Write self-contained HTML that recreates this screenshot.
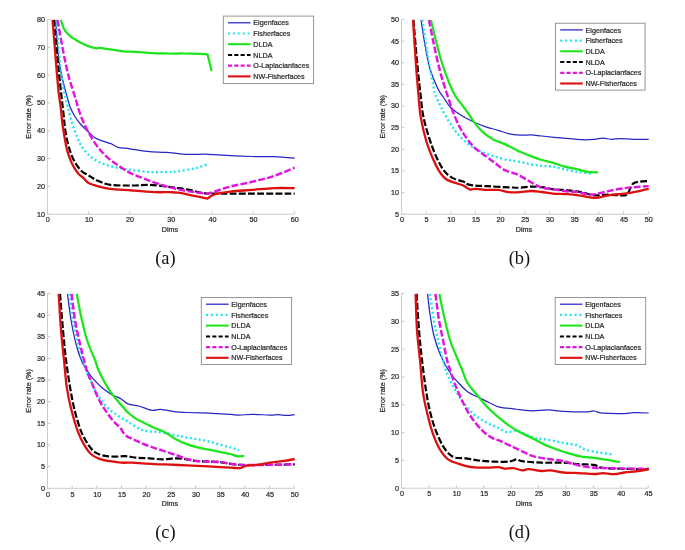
<!DOCTYPE html>
<html><head><meta charset="utf-8"><title>Figure</title>
<style>
html,body{margin:0;padding:0;background:#fff;}
body{width:685px;height:550px;overflow:hidden;}
svg{display:block;will-change:transform;filter:blur(0.4px);}
.t{font-family:"Liberation Sans",sans-serif;font-size:72.0px;fill:#2a2a2a;stroke:#2a2a2a;stroke-width:2.2px;}
.cap{font-family:"Liberation Serif",serif;font-size:18.4px;fill:#111;}
</style></head><body>
<svg width="685" height="550" viewBox="0 0 685 550">
<rect width="685" height="550" fill="#fff"/>
<g id="chart-a">
<path d="M47.4 19.6 V214.2 H294.3" fill="none" stroke="#cbcbcb" stroke-width="1"/>
<text class="t" transform="translate(47.80 222.40) scale(0.1)" text-anchor="middle">0</text>
<text class="t" transform="translate(88.95 222.40) scale(0.1)" text-anchor="middle">10</text>
<text class="t" transform="translate(130.10 222.40) scale(0.1)" text-anchor="middle">20</text>
<text class="t" transform="translate(171.25 222.40) scale(0.1)" text-anchor="middle">30</text>
<text class="t" transform="translate(212.40 222.40) scale(0.1)" text-anchor="middle">40</text>
<text class="t" transform="translate(253.55 222.40) scale(0.1)" text-anchor="middle">50</text>
<text class="t" transform="translate(294.70 222.40) scale(0.1)" text-anchor="middle">60</text>
<text class="t" transform="translate(45.00 216.60) scale(0.1)" text-anchor="end">10</text>
<text class="t" transform="translate(45.00 188.80) scale(0.1)" text-anchor="end">20</text>
<text class="t" transform="translate(45.00 161.00) scale(0.1)" text-anchor="end">30</text>
<text class="t" transform="translate(45.00 133.20) scale(0.1)" text-anchor="end">40</text>
<text class="t" transform="translate(45.00 105.40) scale(0.1)" text-anchor="end">50</text>
<text class="t" transform="translate(45.00 77.60) scale(0.1)" text-anchor="end">60</text>
<text class="t" transform="translate(45.00 49.80) scale(0.1)" text-anchor="end">70</text>
<text class="t" transform="translate(45.00 22.00) scale(0.1)" text-anchor="end">80</text>
<path d="M47.4 214.2 v-3 M88.5 214.2 v-3 M129.7 214.2 v-3 M170.8 214.2 v-3 M212.0 214.2 v-3 M253.2 214.2 v-3 M294.3 214.2 v-3 M47.4 214.2 h3 M47.4 186.4 h3 M47.4 158.6 h3 M47.4 130.8 h3 M47.4 103.0 h3 M47.4 75.2 h3 M47.4 47.4 h3 M47.4 19.6 h3" fill="none" stroke="#cbcbcb" stroke-width="1"/>
<text class="t" transform="translate(169.95 232.10) scale(0.1)" text-anchor="middle">Dims</text>
<text class="t" transform="translate(31.30 116.90) rotate(-90) scale(0.1)" text-anchor="middle">Error rate (%)</text>
<text class="cap" x="165.4" y="264.0" text-anchor="middle">(a)</text>
<path d="M55.6 19.9 C56.1 26.6 57.6 49.6 58.9 60.0 C60.2 70.3 61.7 75.3 63.2 82.0 C64.7 88.7 66.8 95.8 68.0 100.0 C69.2 104.2 69.1 104.6 70.2 107.3 C71.3 110.0 72.9 113.2 74.6 116.0 C76.3 118.8 78.2 121.5 80.4 124.0 C82.6 126.5 85.3 129.0 87.7 131.3 C90.1 133.6 92.5 136.2 94.9 137.8 C97.3 139.4 99.5 139.8 102.2 140.8 C104.9 141.8 108.2 142.6 110.9 143.7 C113.6 144.8 115.0 146.5 118.2 147.3 C121.4 148.2 124.8 148.1 130.0 148.8 C135.2 149.5 143.5 151.1 149.7 151.7 C155.9 152.3 162.9 152.2 167.1 152.4 C171.3 152.7 171.7 152.9 175.0 153.2 C178.3 153.5 181.2 154.1 186.8 154.3 C192.4 154.5 201.3 154.1 208.6 154.3 C215.9 154.5 223.1 155.2 230.4 155.6 C237.7 156.0 244.9 156.3 252.2 156.5 C259.5 156.7 266.9 156.4 274.0 156.7 C281.1 157.0 291.2 157.9 294.7 158.2" fill="none" stroke="#2626c6" stroke-width="1.25" stroke-linejoin="round"/>
<path d="M56.2 19.9 C56.9 27.4 58.9 53.6 60.1 65.0 C61.3 76.4 62.2 81.9 63.4 88.5 C64.6 95.1 66.2 99.8 67.3 104.4 C68.4 109.0 69.2 112.4 70.2 116.0 C71.2 119.6 71.9 122.6 73.1 126.2 C74.3 129.8 76.0 134.4 77.5 137.8 C79.0 141.2 80.1 143.9 81.8 146.6 C83.5 149.3 85.5 151.7 87.7 153.9 C89.9 156.1 92.2 158.0 94.9 159.7 C97.6 161.4 100.8 162.8 103.7 164.0 C106.6 165.2 109.5 166.0 112.4 166.7 C115.3 167.4 118.2 167.9 121.1 168.4 C124.0 168.9 125.2 169.2 130.0 169.8 C134.8 170.4 143.5 171.6 149.7 172.0 C155.9 172.4 162.4 172.1 167.1 172.0 C171.8 171.9 174.1 171.8 178.1 171.3 C182.1 170.8 187.6 169.8 191.2 169.1 C194.8 168.4 197.2 167.8 199.9 167.0 C202.6 166.2 206.2 164.8 207.5 164.3" fill="none" stroke="#22e4f0" stroke-width="2.4" stroke-linejoin="round" stroke-dasharray="2.0 2.5"/>
<path d="M60.7 19.9 C61.0 20.6 61.8 22.6 62.3 24.0 C62.8 25.4 63.0 27.0 63.9 28.6 C64.8 30.2 66.2 32.2 67.5 33.6 C68.8 35.0 70.3 36.3 71.6 37.3 C72.9 38.3 73.9 38.7 75.3 39.5 C76.7 40.3 78.3 41.5 79.8 42.3 C81.3 43.1 82.9 43.8 84.4 44.5 C85.9 45.2 87.1 45.8 88.9 46.4 C90.7 47.0 93.5 48.0 95.3 48.2 C97.1 48.5 97.7 47.8 99.8 47.9 C101.9 48.0 104.1 48.5 108.0 49.1 C111.9 49.7 118.5 50.9 123.2 51.4 C127.9 51.9 131.3 51.6 136.1 51.9 C140.9 52.2 146.8 52.8 152.1 53.1 C157.4 53.4 162.8 53.4 168.2 53.5 C173.5 53.6 178.8 53.4 184.2 53.5 C189.5 53.6 196.4 53.8 200.3 53.9 C204.2 54.0 207.6 54.3 207.6 54.3 C207.6 54.3 210.8 68.1 211.5 70.9" fill="none" stroke="#1ce51c" stroke-width="2.25" stroke-linejoin="round"/>
<path d="M53.8 19.9 C54.2 24.1 55.4 36.6 56.2 45.0 C57.0 53.4 57.8 62.2 58.6 70.0 C59.4 77.8 60.2 84.6 61.0 92.0 C61.8 99.4 62.9 108.4 63.6 114.6 C64.3 120.8 64.4 124.2 65.1 129.1 C65.8 133.9 66.9 139.3 68.0 143.7 C69.1 148.1 70.3 151.9 71.6 155.3 C72.9 158.7 74.3 161.3 76.0 164.0 C77.7 166.7 79.8 169.5 81.8 171.3 C83.8 173.1 86.1 174.0 87.7 175.0 C89.3 176.0 89.8 176.2 91.3 177.1 C92.8 178.0 93.8 179.2 97.0 180.5 C100.2 181.8 104.5 184.1 110.4 184.9 C116.3 185.7 125.6 185.5 132.2 185.5 C138.8 185.5 143.9 184.7 149.7 184.9 C155.5 185.1 162.9 186.1 167.1 186.6 C171.3 187.1 171.7 187.2 175.0 187.7 C178.3 188.2 181.6 188.4 186.8 189.4 C192.0 190.4 201.7 192.9 206.4 193.6 C211.1 194.3 200.5 193.6 215.2 193.6 C229.9 193.6 281.4 193.6 294.7 193.6" fill="none" stroke="#000000" stroke-width="2.2" stroke-linejoin="round" stroke-dasharray="6.8 2.3"/>
<path d="M57.5 19.9 C58.5 25.1 61.4 42.0 63.2 51.4 C65.0 60.8 66.5 67.9 68.6 76.0 C70.7 84.1 74.3 94.3 76.0 100.0 C77.7 105.7 77.7 106.6 78.9 110.2 C80.1 113.8 81.6 117.9 83.3 121.8 C85.0 125.7 86.9 129.6 89.1 133.5 C91.3 137.4 94.0 141.7 96.4 145.1 C98.8 148.5 101.3 151.3 103.7 153.9 C106.1 156.5 108.5 158.5 110.9 160.4 C113.3 162.3 115.0 163.4 118.2 165.5 C121.4 167.6 125.8 170.7 130.0 172.8 C134.2 174.9 139.1 176.6 143.1 178.2 C147.1 179.8 150.0 181.0 154.0 182.4 C158.0 183.8 163.6 185.6 167.1 186.6 C170.6 187.6 171.7 187.8 175.0 188.5 C178.3 189.2 181.6 190.2 186.8 191.0 C192.0 191.8 202.4 193.3 206.4 193.6 C210.4 193.9 206.8 193.9 210.8 192.7 C214.8 191.5 223.5 188.4 230.4 186.6 C237.3 184.8 244.9 183.6 252.2 181.8 C259.5 180.0 266.9 178.4 274.0 176.0 C281.1 173.6 291.2 169.0 294.7 167.6" fill="none" stroke="#e016e0" stroke-width="2.45" stroke-linejoin="round" stroke-dasharray="6.8 2.3"/>
<path d="M52.5 19.9 C52.9 24.1 53.9 36.6 54.6 45.0 C55.3 53.4 55.9 62.2 56.6 70.0 C57.3 77.8 57.9 85.8 58.6 92.0 C59.3 98.2 60.1 102.3 60.7 107.3 C61.3 112.3 61.6 116.9 62.2 121.8 C62.8 126.7 63.6 131.6 64.4 136.4 C65.2 141.2 66.2 146.8 67.3 150.9 C68.4 155.0 69.7 158.2 70.9 161.1 C72.1 164.0 73.3 166.2 74.6 168.4 C75.9 170.6 77.5 172.6 78.9 174.2 C80.4 175.8 81.7 176.4 83.3 177.9 C84.9 179.4 85.9 181.6 88.6 183.0 C91.3 184.4 95.9 185.6 99.5 186.6 C103.1 187.6 105.0 188.2 110.4 188.8 C115.9 189.5 124.9 189.9 132.2 190.5 C139.5 191.1 147.7 191.8 154.0 192.1 C160.3 192.4 166.0 192.1 170.0 192.2 C174.0 192.3 174.6 192.2 178.1 192.7 C181.6 193.2 186.3 194.3 191.2 195.3 C196.1 196.3 207.5 198.6 207.5 198.6 C207.5 198.6 211.4 195.4 215.2 194.2 C219.0 193.0 224.2 192.3 230.4 191.6 C236.6 190.9 244.9 190.5 252.2 189.9 C259.5 189.3 266.9 188.4 274.0 188.1 C281.1 187.8 291.2 188.1 294.7 188.1" fill="none" stroke="#dc1010" stroke-width="2.3" stroke-linejoin="round"/>
<rect x="223.3" y="16.1" width="90.3" height="67.5" fill="#fff" stroke="#8a8a8a" stroke-width="0.9"/>
<path d="M228.0 22.8 h22.6" fill="none" stroke="#2626c6" stroke-width="1.25"/>
<text class="t" transform="translate(253.30 25.40) scale(0.1)">Eigenfaces</text>
<path d="M228.0 33.5 h22.6" fill="none" stroke="#22e4f0" stroke-width="2.1999999999999997" stroke-dasharray="2 2.9"/>
<text class="t" transform="translate(253.30 36.12) scale(0.1)">Fisherfaces</text>
<path d="M228.0 44.2 h22.6" fill="none" stroke="#1ce51c" stroke-width="2.05"/>
<text class="t" transform="translate(253.30 46.84) scale(0.1)">DLDA</text>
<path d="M228.0 55.0 h22.6" fill="none" stroke="#000000" stroke-width="2.0" stroke-dasharray="4.1 2.2"/>
<text class="t" transform="translate(253.30 57.56) scale(0.1)">NLDA</text>
<path d="M228.0 65.7 h22.6" fill="none" stroke="#e016e0" stroke-width="2.25" stroke-dasharray="4.1 2.2"/>
<text class="t" transform="translate(253.30 68.28) scale(0.1)">O-Laplacianfaces</text>
<path d="M228.0 76.4 h22.6" fill="none" stroke="#dc1010" stroke-width="2.0999999999999996"/>
<text class="t" transform="translate(253.30 79.00) scale(0.1)">NW-Fisherfaces</text>
</g>
<g id="chart-b">
<path d="M401.5 19.5 V214.2 H648.3" fill="none" stroke="#cbcbcb" stroke-width="1"/>
<text class="t" transform="translate(401.90 222.40) scale(0.1)" text-anchor="middle">0</text>
<text class="t" transform="translate(426.58 222.40) scale(0.1)" text-anchor="middle">5</text>
<text class="t" transform="translate(451.26 222.40) scale(0.1)" text-anchor="middle">10</text>
<text class="t" transform="translate(475.94 222.40) scale(0.1)" text-anchor="middle">15</text>
<text class="t" transform="translate(500.62 222.40) scale(0.1)" text-anchor="middle">20</text>
<text class="t" transform="translate(525.30 222.40) scale(0.1)" text-anchor="middle">25</text>
<text class="t" transform="translate(549.98 222.40) scale(0.1)" text-anchor="middle">30</text>
<text class="t" transform="translate(574.66 222.40) scale(0.1)" text-anchor="middle">35</text>
<text class="t" transform="translate(599.34 222.40) scale(0.1)" text-anchor="middle">40</text>
<text class="t" transform="translate(624.02 222.40) scale(0.1)" text-anchor="middle">45</text>
<text class="t" transform="translate(648.70 222.40) scale(0.1)" text-anchor="middle">50</text>
<text class="t" transform="translate(399.10 216.60) scale(0.1)" text-anchor="end">5</text>
<text class="t" transform="translate(399.10 194.97) scale(0.1)" text-anchor="end">10</text>
<text class="t" transform="translate(399.10 173.33) scale(0.1)" text-anchor="end">15</text>
<text class="t" transform="translate(399.10 151.70) scale(0.1)" text-anchor="end">20</text>
<text class="t" transform="translate(399.10 130.07) scale(0.1)" text-anchor="end">25</text>
<text class="t" transform="translate(399.10 108.43) scale(0.1)" text-anchor="end">30</text>
<text class="t" transform="translate(399.10 86.80) scale(0.1)" text-anchor="end">35</text>
<text class="t" transform="translate(399.10 65.17) scale(0.1)" text-anchor="end">40</text>
<text class="t" transform="translate(399.10 43.53) scale(0.1)" text-anchor="end">45</text>
<text class="t" transform="translate(399.10 21.90) scale(0.1)" text-anchor="end">50</text>
<path d="M401.5 214.2 v-3 M426.2 214.2 v-3 M450.9 214.2 v-3 M475.5 214.2 v-3 M500.2 214.2 v-3 M524.9 214.2 v-3 M549.6 214.2 v-3 M574.3 214.2 v-3 M598.9 214.2 v-3 M623.6 214.2 v-3 M648.3 214.2 v-3 M401.5 214.2 h3 M401.5 192.6 h3 M401.5 170.9 h3 M401.5 149.3 h3 M401.5 127.7 h3 M401.5 106.0 h3 M401.5 84.4 h3 M401.5 62.8 h3 M401.5 41.1 h3 M401.5 19.5 h3" fill="none" stroke="#cbcbcb" stroke-width="1"/>
<text class="t" transform="translate(524.00 232.10) scale(0.1)" text-anchor="middle">Dims</text>
<text class="t" transform="translate(385.40 116.85) rotate(-90) scale(0.1)" text-anchor="middle">Error rate (%)</text>
<text class="cap" x="519.4" y="264.0" text-anchor="middle">(b)</text>
<path d="M421.0 19.9 C421.7 24.1 423.5 36.8 425.0 45.0 C426.5 53.2 427.8 61.7 430.0 69.0 C432.2 76.3 435.7 84.2 438.0 89.0 C440.3 93.8 442.0 95.0 444.0 98.0 C446.0 101.0 447.3 104.1 450.2 107.0 C453.1 109.9 457.1 112.8 461.1 115.3 C465.1 117.8 469.9 120.3 474.2 122.3 C478.5 124.3 483.2 126.0 487.2 127.3 C491.2 128.6 494.5 129.2 498.1 130.3 C501.8 131.4 505.5 133.0 509.1 133.8 C512.8 134.6 516.4 134.9 520.0 135.1 C523.6 135.3 527.3 134.8 530.9 134.9 C534.5 135.1 536.3 135.4 541.8 136.0 C547.2 136.6 557.0 137.6 563.6 138.2 C570.2 138.8 576.0 139.5 581.1 139.7 C586.2 139.9 590.5 139.6 594.1 139.3 C597.7 139.1 600.0 138.2 602.9 138.2 C605.8 138.2 608.7 139.2 611.6 139.3 C614.5 139.4 616.7 138.6 620.3 138.6 C623.9 138.6 628.7 139.2 633.4 139.3 C638.1 139.4 646.2 139.3 648.7 139.3" fill="none" stroke="#2626c6" stroke-width="1.25" stroke-linejoin="round"/>
<path d="M422.4 19.9 C423.2 25.1 425.7 42.8 427.0 51.0 C428.3 59.2 428.8 62.7 430.0 69.0 C431.2 75.3 433.1 84.7 434.0 89.0 C434.9 93.3 434.3 91.9 435.5 95.0 C436.7 98.1 438.8 102.8 441.2 107.5 C443.6 112.2 447.2 118.8 450.2 123.4 C453.1 128.0 455.6 131.7 458.9 135.3 C462.2 138.9 466.2 142.5 469.8 145.2 C473.4 147.9 477.1 149.6 480.7 151.3 C484.3 153.0 487.6 154.3 491.6 155.6 C495.6 156.9 500.3 158.3 504.7 159.3 C509.1 160.3 513.4 160.7 517.8 161.5 C522.2 162.3 526.9 163.6 530.9 164.3 C534.9 165.0 538.2 165.5 541.8 165.9 C545.4 166.3 549.1 166.0 552.7 166.5 C556.3 167.0 559.6 168.2 563.6 169.1 C567.6 170.0 572.0 171.1 576.7 171.8 C581.4 172.5 589.5 173.2 592.0 173.5" fill="none" stroke="#22e4f0" stroke-width="2.4" stroke-linejoin="round" stroke-dasharray="2.0 2.5"/>
<path d="M431.0 19.9 C431.8 23.4 434.2 33.8 436.0 41.0 C437.8 48.2 439.7 55.7 442.0 63.0 C444.3 70.3 447.7 79.3 450.0 85.0 C452.3 90.7 454.1 93.9 456.0 97.0 C457.9 100.1 459.2 101.1 461.1 103.7 C463.0 106.3 465.4 109.3 467.6 112.4 C469.8 115.5 471.6 119.0 474.2 122.3 C476.8 125.6 479.6 129.2 482.9 132.1 C486.2 135.0 490.2 137.7 493.8 139.7 C497.4 141.7 501.1 142.5 504.7 144.1 C508.3 145.7 513.1 148.2 515.6 149.5 C518.1 150.8 517.5 150.6 520.0 151.7 C522.5 152.8 527.3 154.7 530.9 156.1 C534.5 157.5 538.2 158.9 541.8 160.0 C545.4 161.1 549.1 161.5 552.7 162.6 C556.3 163.7 559.6 165.2 563.6 166.3 C567.6 167.4 572.7 168.2 576.7 169.1 C580.7 170.0 584.0 171.2 587.6 171.8 C591.2 172.4 596.4 172.3 598.1 172.4" fill="none" stroke="#1ce51c" stroke-width="2.25" stroke-linejoin="round"/>
<path d="M413.4 19.9 C414.1 27.4 416.2 52.5 417.4 65.0 C418.6 77.5 419.6 86.4 420.6 95.0 C421.6 103.6 421.9 109.5 423.4 116.8 C424.9 124.1 427.3 132.0 429.4 138.6 C431.5 145.2 433.6 150.8 436.0 156.1 C438.4 161.4 440.9 166.6 443.6 170.2 C446.3 173.8 449.0 176.0 452.3 177.9 C455.6 179.8 460.3 180.4 463.2 181.6 C466.1 182.8 465.8 184.1 469.8 184.9 C473.8 185.7 480.6 185.8 487.2 186.2 C493.8 186.6 503.6 187.1 509.1 187.3 C514.6 187.6 516.4 187.8 520.0 187.7 C523.6 187.6 527.3 186.7 530.9 186.6 C534.5 186.5 538.2 186.8 541.8 187.2 C545.4 187.6 548.3 188.7 552.7 189.2 C557.1 189.7 563.3 189.8 568.0 190.3 C572.7 190.8 576.8 191.2 581.1 192.0 C585.5 192.8 589.8 194.9 594.1 195.3 C598.5 195.8 602.8 194.7 607.2 194.7 C611.6 194.7 617.0 195.3 620.3 195.3 C623.6 195.3 625.2 196.0 626.8 194.9 C628.4 193.8 629.0 190.7 630.1 188.8 C631.2 186.9 631.8 184.5 633.4 183.3 C635.0 182.1 637.5 182.0 640.0 181.6 C642.5 181.2 647.2 181.2 648.7 181.1" fill="none" stroke="#000000" stroke-width="2.2" stroke-linejoin="round" stroke-dasharray="6.8 2.3"/>
<path d="M429.0 19.9 C429.8 24.1 432.2 36.5 434.0 45.0 C435.8 53.5 438.0 63.3 440.0 71.0 C442.0 78.7 444.3 85.7 446.0 91.0 C447.7 96.3 448.9 99.8 450.0 103.0 C451.1 106.2 450.8 106.5 452.3 110.3 C453.8 114.0 456.7 121.2 458.9 125.5 C461.1 129.8 462.8 132.8 465.4 136.4 C467.9 140.0 470.6 143.8 474.2 147.3 C477.8 150.8 483.6 154.5 487.2 157.2 C490.8 159.9 493.1 161.5 496.0 163.7 C498.9 165.9 501.1 168.4 504.7 170.2 C508.3 172.0 513.4 172.6 517.8 174.6 C522.2 176.6 526.9 180.0 530.9 182.2 C534.9 184.4 538.2 186.5 541.8 187.7 C545.4 188.9 549.1 188.6 552.7 189.2 C556.3 189.8 559.6 190.5 563.6 191.0 C567.6 191.5 572.7 191.5 576.7 192.0 C580.7 192.5 584.5 193.8 587.6 194.2 C590.7 194.6 591.9 194.7 595.2 194.2 C598.5 193.7 603.0 192.3 607.2 191.4 C611.4 190.5 615.9 189.5 620.3 188.8 C624.7 188.1 628.7 187.6 633.4 187.2 C638.1 186.8 646.2 186.3 648.7 186.1" fill="none" stroke="#e016e0" stroke-width="2.45" stroke-linejoin="round" stroke-dasharray="6.8 2.3"/>
<path d="M413.0 19.9 C413.5 27.4 415.1 52.5 416.0 65.0 C416.9 77.5 417.7 86.4 418.5 95.0 C419.3 103.6 419.4 109.2 420.7 116.8 C422.0 124.4 424.2 133.9 426.2 140.8 C428.2 147.7 430.5 153.1 432.7 158.2 C434.9 163.3 437.1 167.8 439.3 171.3 C441.5 174.8 443.3 177.1 445.8 179.0 C448.3 180.9 451.6 181.6 454.5 182.7 C457.4 183.8 460.6 184.4 463.2 185.5 C465.8 186.6 467.6 188.8 469.8 189.4 C472.0 190.0 473.4 188.7 476.3 188.8 C479.2 188.9 483.6 189.7 487.2 189.9 C490.8 190.1 494.5 189.5 498.1 189.9 C501.8 190.3 505.5 191.7 509.1 192.1 C512.8 192.5 516.4 192.3 520.0 192.1 C523.6 191.9 527.3 191.0 530.9 191.0 C534.5 191.0 538.2 191.6 541.8 192.0 C545.4 192.4 548.3 193.2 552.7 193.6 C557.1 194.0 563.3 193.8 568.0 194.2 C572.7 194.5 576.8 195.1 581.1 195.7 C585.5 196.3 590.8 197.7 594.1 197.9 C597.4 198.1 597.8 197.6 600.7 197.1 C603.6 196.6 607.6 195.5 611.6 194.9 C615.6 194.3 620.3 194.2 624.7 193.6 C629.1 193.0 633.8 192.2 637.8 191.4 C641.8 190.6 646.9 189.2 648.7 188.8" fill="none" stroke="#dc1010" stroke-width="2.3" stroke-linejoin="round"/>
<rect x="555.5" y="23.2" width="89.6" height="66.9" fill="#fff" stroke="#8a8a8a" stroke-width="0.9"/>
<path d="M560.2 29.9 h22.6" fill="none" stroke="#2626c6" stroke-width="1.25"/>
<text class="t" transform="translate(585.50 32.50) scale(0.1)">Eigenfaces</text>
<path d="M560.2 40.6 h22.6" fill="none" stroke="#22e4f0" stroke-width="2.1999999999999997" stroke-dasharray="2 2.9"/>
<text class="t" transform="translate(585.50 43.22) scale(0.1)">Fisherfaces</text>
<path d="M560.2 51.3 h22.6" fill="none" stroke="#1ce51c" stroke-width="2.05"/>
<text class="t" transform="translate(585.50 53.94) scale(0.1)">DLDA</text>
<path d="M560.2 62.1 h22.6" fill="none" stroke="#000000" stroke-width="2.0" stroke-dasharray="4.1 2.2"/>
<text class="t" transform="translate(585.50 64.66) scale(0.1)">NLDA</text>
<path d="M560.2 72.8 h22.6" fill="none" stroke="#e016e0" stroke-width="2.25" stroke-dasharray="4.1 2.2"/>
<text class="t" transform="translate(585.50 75.38) scale(0.1)">O-Laplacianfaces</text>
<path d="M560.2 83.5 h22.6" fill="none" stroke="#dc1010" stroke-width="2.0999999999999996"/>
<text class="t" transform="translate(585.50 86.10) scale(0.1)">NW-Fisherfaces</text>
</g>
<g id="chart-c">
<path d="M47.5 293.5 V488.3 H294.3" fill="none" stroke="#cbcbcb" stroke-width="1"/>
<text class="t" transform="translate(47.90 496.50) scale(0.1)" text-anchor="middle">0</text>
<text class="t" transform="translate(72.58 496.50) scale(0.1)" text-anchor="middle">5</text>
<text class="t" transform="translate(97.26 496.50) scale(0.1)" text-anchor="middle">10</text>
<text class="t" transform="translate(121.94 496.50) scale(0.1)" text-anchor="middle">15</text>
<text class="t" transform="translate(146.62 496.50) scale(0.1)" text-anchor="middle">20</text>
<text class="t" transform="translate(171.30 496.50) scale(0.1)" text-anchor="middle">25</text>
<text class="t" transform="translate(195.98 496.50) scale(0.1)" text-anchor="middle">30</text>
<text class="t" transform="translate(220.66 496.50) scale(0.1)" text-anchor="middle">35</text>
<text class="t" transform="translate(245.34 496.50) scale(0.1)" text-anchor="middle">40</text>
<text class="t" transform="translate(270.02 496.50) scale(0.1)" text-anchor="middle">45</text>
<text class="t" transform="translate(294.70 496.50) scale(0.1)" text-anchor="middle">50</text>
<text class="t" transform="translate(45.10 490.70) scale(0.1)" text-anchor="end">0</text>
<text class="t" transform="translate(45.10 469.06) scale(0.1)" text-anchor="end">5</text>
<text class="t" transform="translate(45.10 447.41) scale(0.1)" text-anchor="end">10</text>
<text class="t" transform="translate(45.10 425.77) scale(0.1)" text-anchor="end">15</text>
<text class="t" transform="translate(45.10 404.12) scale(0.1)" text-anchor="end">20</text>
<text class="t" transform="translate(45.10 382.48) scale(0.1)" text-anchor="end">25</text>
<text class="t" transform="translate(45.10 360.83) scale(0.1)" text-anchor="end">30</text>
<text class="t" transform="translate(45.10 339.19) scale(0.1)" text-anchor="end">35</text>
<text class="t" transform="translate(45.10 317.54) scale(0.1)" text-anchor="end">40</text>
<text class="t" transform="translate(45.10 295.90) scale(0.1)" text-anchor="end">45</text>
<path d="M47.5 488.3 v-3 M72.2 488.3 v-3 M96.9 488.3 v-3 M121.5 488.3 v-3 M146.2 488.3 v-3 M170.9 488.3 v-3 M195.6 488.3 v-3 M220.3 488.3 v-3 M244.9 488.3 v-3 M269.6 488.3 v-3 M294.3 488.3 v-3 M47.5 488.3 h3 M47.5 466.7 h3 M47.5 445.0 h3 M47.5 423.4 h3 M47.5 401.7 h3 M47.5 380.1 h3 M47.5 358.4 h3 M47.5 336.8 h3 M47.5 315.1 h3 M47.5 293.5 h3" fill="none" stroke="#cbcbcb" stroke-width="1"/>
<text class="t" transform="translate(170.00 506.20) scale(0.1)" text-anchor="middle">Dims</text>
<text class="t" transform="translate(31.40 390.90) rotate(-90) scale(0.1)" text-anchor="middle">Error rate (%)</text>
<text class="cap" x="165.4" y="538.1" text-anchor="middle">(c)</text>
<path d="M67.5 293.9 C68.1 298.2 69.6 311.6 71.0 320.0 C72.4 328.4 74.2 337.0 76.0 344.0 C77.8 351.0 80.1 357.5 82.0 362.0 C83.9 366.5 85.7 368.2 87.5 371.0 C89.3 373.8 90.6 376.0 93.0 378.7 C95.4 381.4 98.4 384.7 101.7 387.4 C105.0 390.1 109.5 393.3 112.6 395.1 C115.7 396.9 117.7 396.9 120.2 398.4 C122.8 399.8 124.8 402.5 127.9 403.8 C131.0 405.1 134.8 404.9 138.8 406.0 C142.8 407.1 148.3 409.8 151.9 410.3 C155.5 410.9 156.6 409.0 160.6 409.3 C164.6 409.6 171.5 411.4 175.9 411.9 C180.3 412.4 181.4 412.3 186.8 412.5 C192.2 412.7 201.3 412.9 208.6 413.2 C215.9 413.5 225.3 414.0 230.4 414.3 C235.5 414.6 235.5 415.1 239.1 415.1 C242.7 415.1 247.1 414.3 252.2 414.3 C257.3 414.3 265.3 415.0 269.7 415.1 C274.1 415.2 275.5 414.6 278.4 414.7 C281.3 414.8 284.4 415.4 287.1 415.4 C289.8 415.4 293.4 414.8 294.7 414.7" fill="none" stroke="#2626c6" stroke-width="1.25" stroke-linejoin="round"/>
<path d="M69.5 293.9 C70.1 298.2 71.6 311.6 73.0 320.0 C74.4 328.4 76.2 336.7 78.0 344.0 C79.8 351.3 82.5 359.2 84.0 364.0 C85.5 368.8 85.9 370.2 87.0 373.0 C88.1 375.8 89.1 377.4 90.8 380.9 C92.5 384.4 94.8 389.8 97.3 394.0 C99.8 398.2 102.8 402.8 106.1 406.3 C109.4 409.8 113.4 412.6 117.0 415.1 C120.6 417.7 124.3 419.4 127.9 421.6 C131.5 423.8 135.5 426.8 138.8 428.4 C142.1 430.0 143.9 430.7 147.5 431.3 C151.1 431.9 155.9 431.5 160.6 432.2 C165.3 432.9 171.5 434.5 175.9 435.4 C180.3 436.3 183.2 437.0 186.8 437.6 C190.4 438.2 194.1 438.7 197.7 439.3 C201.3 439.9 205.0 440.6 208.6 441.5 C212.2 442.4 215.9 443.6 219.5 444.6 C223.1 445.6 227.1 446.5 230.4 447.4 C233.7 448.3 237.7 449.7 239.1 450.2" fill="none" stroke="#22e4f0" stroke-width="2.4" stroke-linejoin="round" stroke-dasharray="2.0 2.5"/>
<path d="M76.8 293.9 C77.5 297.6 79.3 308.3 81.0 316.0 C82.7 323.7 84.7 332.7 87.0 340.0 C89.3 347.3 93.1 355.0 95.0 360.0 C96.9 365.0 96.9 366.5 98.4 370.0 C99.9 373.5 101.9 377.3 103.9 380.9 C105.9 384.5 107.9 388.2 110.4 391.8 C113.0 395.4 116.3 399.2 119.2 402.7 C122.1 406.1 125.0 409.8 127.9 412.5 C130.8 415.2 133.7 417.3 136.6 419.1 C139.5 420.9 142.4 421.9 145.3 423.4 C148.2 424.8 150.8 426.3 154.1 427.8 C157.4 429.3 161.4 430.3 165.0 432.2 C168.6 434.1 172.3 437.3 175.9 439.3 C179.5 441.3 183.2 442.8 186.8 444.1 C190.4 445.5 194.1 446.5 197.7 447.4 C201.3 448.3 205.0 448.9 208.6 449.6 C212.2 450.3 215.9 451.1 219.5 451.8 C223.1 452.5 227.5 453.3 230.4 454.0 C233.3 454.7 234.6 455.8 236.9 456.1 C239.2 456.5 243.0 456.1 244.2 456.1" fill="none" stroke="#1ce51c" stroke-width="2.25" stroke-linejoin="round"/>
<path d="M60.0 293.9 C60.5 299.9 62.0 319.0 63.0 330.0 C64.0 341.0 64.8 350.4 66.0 360.0 C67.2 369.6 68.7 379.2 70.1 387.4 C71.5 395.6 72.6 402.0 74.4 409.3 C76.2 416.6 78.6 425.1 81.0 431.1 C83.4 437.1 86.2 441.6 88.6 445.2 C91.0 448.8 92.7 450.6 95.2 452.4 C97.8 454.1 100.6 455.0 103.9 455.7 C107.2 456.4 111.2 456.5 114.8 456.6 C118.4 456.7 122.1 456.0 125.7 456.2 C129.3 456.4 132.6 457.3 136.6 457.7 C140.6 458.1 145.3 458.0 149.7 458.3 C154.1 458.6 158.4 459.4 162.8 459.4 C167.2 459.4 171.9 458.3 175.9 458.3 C179.9 458.3 183.2 458.9 186.8 459.4 C190.4 459.9 192.2 460.7 197.7 461.1 C203.1 461.5 212.2 461.4 219.5 462.0 C226.8 462.6 228.8 464.5 241.3 464.9 C253.8 465.3 285.8 464.5 294.7 464.4" fill="none" stroke="#000000" stroke-width="2.2" stroke-linejoin="round" stroke-dasharray="6.8 2.3"/>
<path d="M71.5 293.9 C72.1 298.2 73.6 311.6 75.0 320.0 C76.4 328.4 78.3 336.7 80.0 344.0 C81.7 351.3 83.7 359.0 85.0 364.0 C86.3 369.0 86.8 370.8 88.0 374.0 C89.2 377.2 90.4 379.4 91.9 383.1 C93.5 386.8 95.3 392.0 97.3 396.2 C99.3 400.4 101.4 404.2 103.9 408.2 C106.5 412.2 109.9 416.9 112.6 420.2 C115.3 423.5 118.0 425.3 120.2 427.8 C122.4 430.3 123.0 433.2 125.7 435.4 C128.4 437.6 132.6 439.1 136.6 440.9 C140.6 442.7 145.3 444.7 149.7 446.3 C154.1 447.9 158.4 449.2 162.8 450.7 C167.2 452.1 171.9 453.6 175.9 455.0 C179.9 456.4 183.2 458.0 186.8 459.0 C190.4 460.0 192.2 460.6 197.7 461.1 C203.1 461.6 214.1 461.6 219.5 462.0 C224.9 462.4 226.8 463.3 230.4 463.8 C234.0 464.3 234.8 464.7 241.3 464.9 C247.9 465.1 260.8 465.0 269.7 464.9 C278.6 464.8 290.5 464.3 294.7 464.2" fill="none" stroke="#e016e0" stroke-width="2.45" stroke-linejoin="round" stroke-dasharray="6.8 2.3"/>
<path d="M58.7 293.9 C59.1 299.9 60.1 319.0 61.0 330.0 C61.9 341.0 63.0 350.4 64.0 360.0 C65.0 369.6 65.6 379.2 66.8 387.4 C68.0 395.6 69.4 402.0 71.2 409.3 C73.0 416.6 75.5 425.1 77.7 431.1 C79.9 437.1 82.1 441.4 84.3 445.2 C86.5 449.0 88.3 451.7 90.8 454.0 C93.3 456.3 96.2 457.6 99.5 458.8 C102.8 460.0 106.8 460.6 110.4 461.2 C114.0 461.8 117.7 462.4 121.3 462.7 C124.9 462.9 128.6 462.6 132.2 462.7 C135.8 462.8 139.4 463.1 143.1 463.3 C146.8 463.6 150.4 464.0 154.1 464.2 C157.8 464.4 159.6 464.2 165.0 464.4 C170.4 464.6 179.5 465.0 186.8 465.3 C194.1 465.6 201.3 466.0 208.6 466.4 C215.9 466.8 225.1 467.4 230.4 467.7 C235.7 468.0 237.6 468.4 240.2 468.1 C242.8 467.8 243.0 466.4 245.7 465.9 C248.4 465.4 252.6 465.4 256.6 464.9 C260.6 464.4 265.4 463.3 269.7 462.7 C274.0 462.1 278.5 461.7 282.7 461.1 C286.9 460.5 292.7 459.4 294.7 459.0" fill="none" stroke="#dc1010" stroke-width="2.3" stroke-linejoin="round"/>
<rect x="201.3" y="297.5" width="90.3" height="67.0" fill="#fff" stroke="#8a8a8a" stroke-width="0.9"/>
<path d="M206.0 304.2 h22.6" fill="none" stroke="#2626c6" stroke-width="1.25"/>
<text class="t" transform="translate(231.30 306.80) scale(0.1)">Eigenfaces</text>
<path d="M206.0 314.9 h22.6" fill="none" stroke="#22e4f0" stroke-width="2.1999999999999997" stroke-dasharray="2 2.9"/>
<text class="t" transform="translate(231.30 317.52) scale(0.1)">Fisherfaces</text>
<path d="M206.0 325.6 h22.6" fill="none" stroke="#1ce51c" stroke-width="2.05"/>
<text class="t" transform="translate(231.30 328.24) scale(0.1)">DLDA</text>
<path d="M206.0 336.4 h22.6" fill="none" stroke="#000000" stroke-width="2.0" stroke-dasharray="4.1 2.2"/>
<text class="t" transform="translate(231.30 338.96) scale(0.1)">NLDA</text>
<path d="M206.0 347.1 h22.6" fill="none" stroke="#e016e0" stroke-width="2.25" stroke-dasharray="4.1 2.2"/>
<text class="t" transform="translate(231.30 349.68) scale(0.1)">O-Laplacianfaces</text>
<path d="M206.0 357.8 h22.6" fill="none" stroke="#dc1010" stroke-width="2.0999999999999996"/>
<text class="t" transform="translate(231.30 360.40) scale(0.1)">NW-Fisherfaces</text>
</g>
<g id="chart-d">
<path d="M401.5 293.5 V488.2 H648.2" fill="none" stroke="#cbcbcb" stroke-width="1"/>
<text class="t" transform="translate(401.90 496.40) scale(0.1)" text-anchor="middle">0</text>
<text class="t" transform="translate(429.31 496.40) scale(0.1)" text-anchor="middle">5</text>
<text class="t" transform="translate(456.72 496.40) scale(0.1)" text-anchor="middle">10</text>
<text class="t" transform="translate(484.13 496.40) scale(0.1)" text-anchor="middle">15</text>
<text class="t" transform="translate(511.54 496.40) scale(0.1)" text-anchor="middle">20</text>
<text class="t" transform="translate(538.96 496.40) scale(0.1)" text-anchor="middle">25</text>
<text class="t" transform="translate(566.37 496.40) scale(0.1)" text-anchor="middle">30</text>
<text class="t" transform="translate(593.78 496.40) scale(0.1)" text-anchor="middle">35</text>
<text class="t" transform="translate(621.19 496.40) scale(0.1)" text-anchor="middle">40</text>
<text class="t" transform="translate(648.60 496.40) scale(0.1)" text-anchor="middle">45</text>
<text class="t" transform="translate(399.10 490.60) scale(0.1)" text-anchor="end">0</text>
<text class="t" transform="translate(399.10 462.79) scale(0.1)" text-anchor="end">5</text>
<text class="t" transform="translate(399.10 434.97) scale(0.1)" text-anchor="end">10</text>
<text class="t" transform="translate(399.10 407.16) scale(0.1)" text-anchor="end">15</text>
<text class="t" transform="translate(399.10 379.34) scale(0.1)" text-anchor="end">20</text>
<text class="t" transform="translate(399.10 351.53) scale(0.1)" text-anchor="end">25</text>
<text class="t" transform="translate(399.10 323.71) scale(0.1)" text-anchor="end">30</text>
<text class="t" transform="translate(399.10 295.90) scale(0.1)" text-anchor="end">35</text>
<path d="M401.5 488.2 v-3 M428.9 488.2 v-3 M456.3 488.2 v-3 M483.7 488.2 v-3 M511.1 488.2 v-3 M538.6 488.2 v-3 M566.0 488.2 v-3 M593.4 488.2 v-3 M620.8 488.2 v-3 M648.2 488.2 v-3 M401.5 488.2 h3 M401.5 460.4 h3 M401.5 432.6 h3 M401.5 404.8 h3 M401.5 376.9 h3 M401.5 349.1 h3 M401.5 321.3 h3 M401.5 293.5 h3" fill="none" stroke="#cbcbcb" stroke-width="1"/>
<text class="t" transform="translate(523.95 506.10) scale(0.1)" text-anchor="middle">Dims</text>
<text class="t" transform="translate(385.40 390.85) rotate(-90) scale(0.1)" text-anchor="middle">Error rate (%)</text>
<text class="cap" x="519.4" y="538.0" text-anchor="middle">(d)</text>
<path d="M427.6 293.9 C428.0 297.2 428.9 307.0 430.0 314.0 C431.1 321.0 432.3 329.3 434.0 336.0 C435.7 342.7 438.0 349.0 440.0 354.0 C442.0 359.0 444.0 362.4 446.0 366.0 C448.0 369.6 450.2 373.0 452.0 375.5 C453.8 378.0 454.1 378.2 456.7 380.9 C459.3 383.6 464.0 389.1 467.6 391.8 C471.2 394.5 474.9 395.5 478.5 397.3 C482.1 399.1 485.9 401.1 489.4 402.7 C492.8 404.3 495.2 406.1 499.2 407.1 C503.2 408.1 509.9 408.4 513.4 408.8 C516.9 409.2 516.7 409.4 520.0 409.7 C523.3 410.0 528.4 410.8 533.1 410.8 C537.8 410.8 543.2 409.8 548.3 409.9 C553.4 410.0 557.4 411.1 563.6 411.4 C569.8 411.7 580.3 412.0 585.4 411.9 C590.5 411.8 591.2 410.8 594.1 411.0 C597.0 411.2 597.8 412.8 602.9 413.2 C608.0 413.6 619.6 413.7 624.7 413.6 C629.8 413.5 629.4 412.8 633.4 412.7 C637.4 412.6 646.2 412.9 648.7 413.0" fill="none" stroke="#2626c6" stroke-width="1.25" stroke-linejoin="round"/>
<path d="M430.0 293.9 C430.7 298.2 432.7 312.3 434.0 320.0 C435.3 327.7 436.5 333.3 438.0 340.0 C439.5 346.7 441.7 355.0 443.0 360.0 C444.3 365.0 444.4 366.1 445.8 370.0 C447.2 373.9 449.1 378.7 451.3 383.1 C453.5 387.5 456.2 392.1 458.9 396.2 C461.6 400.3 464.7 404.2 467.6 407.6 C470.5 411.0 473.0 413.8 476.3 416.3 C479.6 418.8 483.6 420.9 487.2 422.8 C490.8 424.7 494.8 426.2 498.1 427.8 C501.4 429.4 503.6 431.6 506.9 432.2 C510.2 432.8 513.4 430.2 517.8 431.1 C522.2 432.0 528.0 436.2 533.1 437.6 C538.2 439.1 543.2 438.9 548.3 439.8 C553.4 440.7 558.9 442.1 563.6 443.0 C568.3 443.9 573.1 444.1 576.7 445.2 C580.3 446.3 581.8 448.4 585.4 449.6 C589.0 450.8 594.0 451.6 598.5 452.4 C603.0 453.2 610.3 454.2 612.7 454.6" fill="none" stroke="#22e4f0" stroke-width="2.4" stroke-linejoin="round" stroke-dasharray="2.0 2.5"/>
<path d="M439.4 293.9 C440.2 297.6 442.2 308.3 444.0 316.0 C445.8 323.7 447.7 332.7 450.0 340.0 C452.3 347.3 456.0 355.0 458.0 360.0 C460.0 365.0 460.6 366.1 462.2 370.0 C463.8 373.9 465.2 379.1 467.6 383.1 C470.0 387.1 473.0 390.0 476.3 394.0 C479.6 398.0 483.6 403.3 487.2 407.1 C490.8 410.9 494.5 413.8 498.1 416.9 C501.8 420.0 505.5 423.1 509.1 425.6 C512.8 428.2 516.0 430.0 520.0 432.2 C524.0 434.4 528.4 436.3 533.1 438.7 C537.8 441.1 543.2 444.1 548.3 446.3 C553.4 448.5 558.5 450.2 563.6 451.8 C568.7 453.4 573.8 455.1 578.9 456.1 C584.0 457.1 589.4 457.3 594.1 457.9 C598.8 458.5 602.9 459.1 607.2 459.8 C611.5 460.5 617.8 461.8 619.9 462.2" fill="none" stroke="#1ce51c" stroke-width="2.25" stroke-linejoin="round"/>
<path d="M416.6 293.9 C417.0 299.9 418.1 319.0 419.0 330.0 C419.9 341.0 420.8 349.7 422.0 360.0 C423.2 370.3 424.8 382.9 426.2 391.8 C427.6 400.7 428.9 407.1 430.5 413.6 C432.1 420.2 434.0 425.8 436.0 431.1 C438.0 436.4 440.3 441.4 442.5 445.2 C444.7 449.0 446.9 451.9 449.1 454.0 C451.3 456.1 452.9 457.0 455.6 457.7 C458.3 458.4 461.6 457.8 465.4 458.3 C469.2 458.8 473.8 459.9 478.5 460.5 C483.2 461.1 488.7 461.4 493.8 461.6 C498.9 461.8 505.3 462.0 509.1 461.6 C512.9 461.2 514.5 459.5 516.7 459.4 C518.9 459.3 517.9 460.6 522.1 461.2 C526.3 461.8 534.9 462.4 541.8 462.7 C548.7 462.9 557.4 462.4 563.6 462.7 C569.8 462.9 573.8 463.8 578.9 464.2 C584.0 464.6 590.5 464.3 594.1 464.9 C597.7 465.5 597.1 467.1 600.7 467.7 C604.3 468.3 607.9 468.4 615.9 468.6 C623.9 468.9 643.2 469.1 648.7 469.2" fill="none" stroke="#000000" stroke-width="2.2" stroke-linejoin="round" stroke-dasharray="6.8 2.3"/>
<path d="M435.4 293.9 C436.0 298.2 437.7 312.3 439.0 320.0 C440.3 327.7 441.7 333.3 443.0 340.0 C444.3 346.7 445.8 355.0 447.0 360.0 C448.2 365.0 448.9 366.1 450.2 370.0 C451.4 373.9 452.7 378.4 454.5 383.1 C456.3 387.8 458.9 393.7 461.1 398.4 C463.3 403.1 465.4 407.6 467.6 411.4 C469.8 415.2 471.6 418.0 474.2 421.3 C476.8 424.6 480.0 428.4 482.9 431.1 C485.8 433.8 488.7 436.0 491.6 437.6 C494.5 439.2 497.4 439.6 500.3 440.9 C503.2 442.2 505.8 443.6 509.1 445.2 C512.4 446.8 516.0 448.5 520.0 450.3 C524.0 452.1 528.4 454.7 533.1 456.1 C537.8 457.6 543.2 458.2 548.3 459.0 C553.4 459.8 558.5 460.0 563.6 461.1 C568.7 462.2 573.8 464.4 578.9 465.5 C584.0 466.6 589.4 467.3 594.1 467.7 C598.8 468.1 602.1 468.0 607.2 468.1 C612.3 468.2 617.8 468.5 624.7 468.6 C631.6 468.7 644.7 468.6 648.7 468.6" fill="none" stroke="#e016e0" stroke-width="2.45" stroke-linejoin="round" stroke-dasharray="6.8 2.3"/>
<path d="M415.6 293.9 C415.8 299.9 416.3 319.0 417.0 330.0 C417.7 341.0 419.0 349.7 420.0 360.0 C421.0 370.3 421.7 382.9 422.9 391.8 C424.1 400.7 425.7 406.7 427.3 413.6 C428.9 420.5 430.7 427.4 432.7 433.2 C434.7 439.0 436.8 444.1 439.3 448.5 C441.9 452.9 444.7 456.8 448.0 459.4 C451.3 461.9 454.9 462.5 458.9 463.8 C462.9 465.1 467.3 466.5 472.0 467.1 C476.7 467.8 482.8 467.7 487.2 467.7 C491.6 467.7 495.2 467.0 498.1 467.1 C501.0 467.2 502.1 468.4 504.7 468.6 C507.2 468.8 510.5 467.8 513.4 468.1 C516.3 468.4 519.5 470.1 522.1 470.3 C524.7 470.5 525.4 469.1 528.7 469.2 C532.0 469.3 538.2 470.8 541.8 471.0 C545.4 471.2 546.9 470.1 550.5 470.3 C554.1 470.6 558.9 472.0 563.6 472.5 C568.3 473.0 573.8 472.9 578.9 473.1 C584.0 473.4 590.1 474.0 594.1 474.0 C598.1 474.0 599.6 473.1 602.9 473.1 C606.2 473.1 610.2 474.3 613.8 474.2 C617.4 474.1 620.7 473.0 624.7 472.5 C628.7 472.0 633.8 471.6 637.8 471.0 C641.8 470.4 646.9 469.5 648.7 469.2" fill="none" stroke="#dc1010" stroke-width="2.3" stroke-linejoin="round"/>
<rect x="555.2" y="297.5" width="90.5" height="67.0" fill="#fff" stroke="#8a8a8a" stroke-width="0.9"/>
<path d="M559.9 304.2 h22.6" fill="none" stroke="#2626c6" stroke-width="1.25"/>
<text class="t" transform="translate(585.20 306.80) scale(0.1)">Eigenfaces</text>
<path d="M559.9 314.9 h22.6" fill="none" stroke="#22e4f0" stroke-width="2.1999999999999997" stroke-dasharray="2 2.9"/>
<text class="t" transform="translate(585.20 317.52) scale(0.1)">Fisherfaces</text>
<path d="M559.9 325.6 h22.6" fill="none" stroke="#1ce51c" stroke-width="2.05"/>
<text class="t" transform="translate(585.20 328.24) scale(0.1)">DLDA</text>
<path d="M559.9 336.4 h22.6" fill="none" stroke="#000000" stroke-width="2.0" stroke-dasharray="4.1 2.2"/>
<text class="t" transform="translate(585.20 338.96) scale(0.1)">NLDA</text>
<path d="M559.9 347.1 h22.6" fill="none" stroke="#e016e0" stroke-width="2.25" stroke-dasharray="4.1 2.2"/>
<text class="t" transform="translate(585.20 349.68) scale(0.1)">O-Laplacianfaces</text>
<path d="M559.9 357.8 h22.6" fill="none" stroke="#dc1010" stroke-width="2.0999999999999996"/>
<text class="t" transform="translate(585.20 360.40) scale(0.1)">NW-Fisherfaces</text>
</g>
</svg>
</body></html>
